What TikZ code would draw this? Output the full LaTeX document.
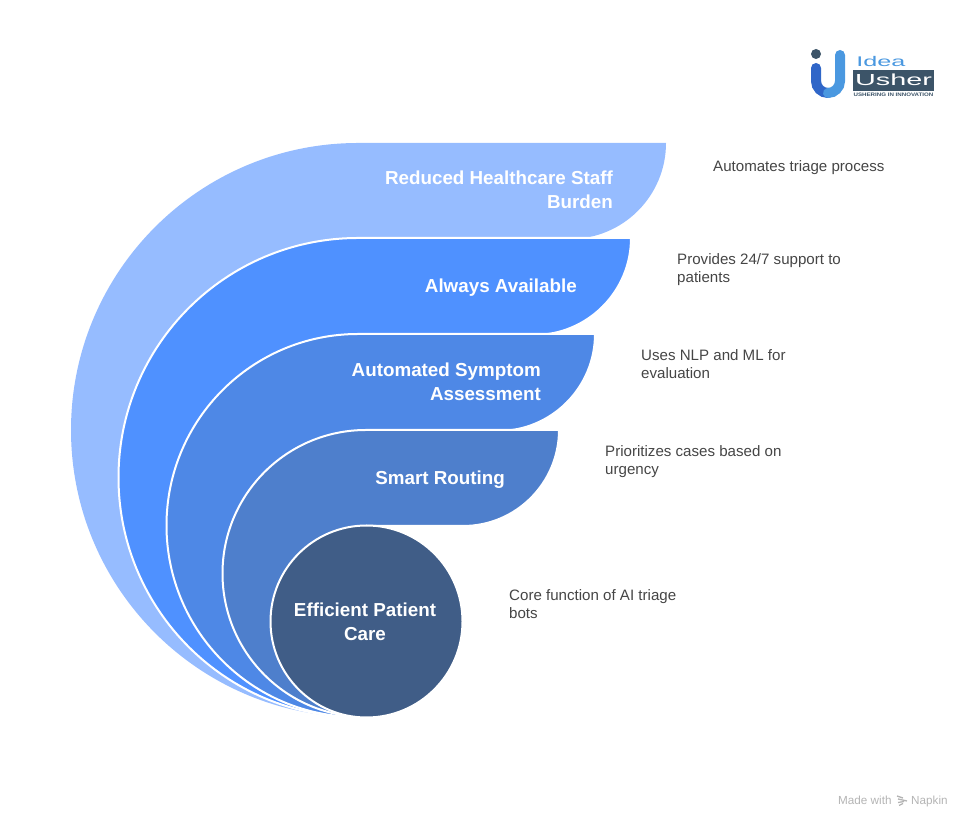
\documentclass[tikz,border=0pt]{standalone}
\usepackage{fontspec}
\setmainfont{Liberation Sans}
\definecolor{cA}{HTML}{96BCFF}
\definecolor{cB}{HTML}{4F91FF}
\definecolor{cC}{HTML}{4E88E6}
\definecolor{cD}{HTML}{4E7FCC}
\definecolor{cE}{HTML}{405D87}
\definecolor{desc}{HTML}{454545}
\definecolor{logoDark}{HTML}{3C5468}
\definecolor{logoLeft}{HTML}{2F66C8}
\definecolor{logoRight}{HTML}{4A98E0}
\definecolor{foot}{HTML}{B4B4B4}
\tikzset{
  x=1pt,y=1pt,
  band/.style={draw=white,line width=2pt,line join=round},
  head/.style={inner sep=0pt,align=right,anchor=east,text=white,font=\fontsize{18.8}{24}\selectfont\bfseries},
  note/.style={inner sep=0pt,align=left,anchor=west,text=desc,font=\fontsize{15.1}{18}\selectfont},
  footer/.style={inner sep=0pt,anchor=base west,text=foot,font=\fontsize{11.7}{12}\selectfont},
}
\begin{document}
\begin{tikzpicture}
\useasboundingbox (0,0) rectangle (971,829);
% bands (y measured upward: 829 minus image row)
\path[fill=cA] (358,686) -- (666,686) arc (0:-90:96) -- (358,590) -- (358,112) arc (-90:-270:287) -- cycle;
\path[fill=cB,band] (358,591) -- (631,591) arc (0:-90:97) -- (358,494) -- (358,112) arc (-90:-270:239.5) -- cycle;
\path[fill=cC,band] (358,495) -- (595,495) arc (0:-90:97) -- (358,398) -- (358,112) arc (-90:-270:191.5) -- cycle;
\path[fill=cD,band] (366,399) -- (559,399) arc (0:-90:96) -- (366,303) -- (366,112) arc (-90:-270:143.5) -- cycle;
\node[circle,fill=cE,draw=white,line width=2pt,minimum size=192pt,inner sep=0pt] (core) at (366.5,207.5) {};
% band labels
\node[head] (l1) at (613,639) {Reduced Healthcare Staff\\Burden};
\node[head] (l2) at (577,541) {Always Available};
\node[head] (l3) at (541,447) {Automated Symptom\\Assessment};
\node[head] (l4) at (505,349) {Smart Routing};
\node[inner sep=0pt,align=center,text=white,font=\fontsize{18.8}{24}\selectfont\bfseries] (l5) at (365,207) {Efficient Patient\\Care};
% notes
\node[note] (n1) at (713,661) {Automates triage process};
\node[note] (n2) at (677,559) {Provides 24/7 support to\\patients};
\node[note] (n3) at (641,465) {Uses NLP and ML for\\evaluation};
\node[note] (n4) at (605,367) {Prioritizes cases based on\\urgency};
\node[note] (n5) at (509,225) {Core function of AI triage\\bots};
% logo
\fill[logoDark] (816,775) circle (5);
\draw[line width=10pt,color=logoLeft,line cap=round] (816,761) -- (816,748) arc (180:270:12);
\draw[line width=10pt,color=logoRight,line cap=round] (828,736) arc (270:360:12) -- (840,774);
\node[inner sep=0pt,anchor=west,text=logoRight,xscale=1.8,font=\fontsize{14}{14}\selectfont] (lg1) at (856,767) {Idea};
\fill[logoDark] (853,738) rectangle (934,759);
\node[inner sep=0pt,anchor=center,text=white,xscale=1.8,font=\fontsize{16}{16}\selectfont] (lg2) at (893.5,749) {Usher};
\node[inner sep=0pt,anchor=center,text=logoDark,xscale=1.23,font=\bfseries\fontsize{5}{5}\selectfont] (lg3) at (893.5,734) {USHERING IN INNOVATION};
% footer
\node[footer] (mw) at (838,24) {Made with};
\node[footer] (nk) at (911,24) {Napkin};
\draw[foot,line width=1.3pt] (897,33) -- (903,31) (898,30) -- (907,28) (898,26.5) -- (904,27.5) (899,23.5) -- (903,25.5);
\end{tikzpicture}
\end{document}
